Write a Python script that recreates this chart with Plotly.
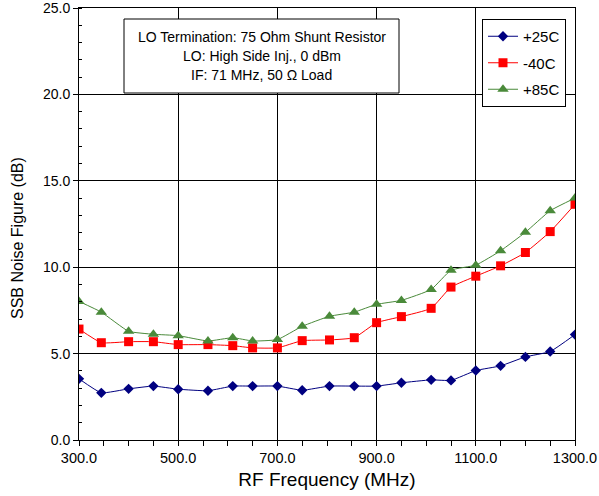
import plotly.graph_objects as go

freq_mhz = [300, 345, 400, 450, 500, 560, 610, 650, 700, 750, 805, 855,
            900, 950, 1010, 1050, 1100, 1150, 1200, 1250, 1300]
nf_25c = [3.54, 2.73, 2.96, 3.12, 2.94, 2.85, 3.12, 3.12, 3.12, 2.88, 3.12, 3.12,
          3.12, 3.31, 3.48, 3.45, 4.02, 4.29, 4.81, 5.12, 6.10]
nf_m40c = [6.42, 5.63, 5.69, 5.69, 5.52, 5.52, 5.46, 5.33, 5.33, 5.75, 5.79, 5.92,
           6.79, 7.14, 7.62, 8.85, 9.48, 10.08, 10.85, 12.06, 13.64]
nf_85c = [8.02, 7.40, 6.29, 6.12, 6.04, 5.73, 5.92, 5.73, 5.81, 6.58, 7.16, 7.40,
          7.85, 8.08, 8.71, 9.83, 10.12, 10.95, 12.02, 13.27, 14.00]

series_names = ["+25C", "-40C", "+85C"]
box_lines = ["LO Termination: 75 Ohm Shunt Resistor",
             "LO: High Side Inj., 0 dBm",
             "IF: 71 MHz, 50 \u03a9 Load"]
x_title = "RF Frequency (MHz)"
y_title = "SSB Noise Figure (dB)"

FONT = "Liberation Sans, Arial, Helvetica, sans-serif"
W, H = 599, 496
ML, MR, MT, MB = 79, 24, 8, 56
PW, PH = W - ML - MR, H - MT - MB

def px(x):
    return (x - ML) / PW

def py(y):
    return (H - MB - y) / PH

fig = go.Figure()
styles = [
    (nf_25c, "#000080", "diamond", 8),
    (nf_m40c, "#ff0000", "square", 9),
    (nf_85c, "#4a8a3a", "triangle-up", 10),
]
for i, (vals, col, sym, sz) in enumerate(styles):
    fig.add_trace(go.Scatter(
        x=freq_mhz, y=vals, name=series_names[i], mode="lines+markers",
        line=dict(color=col, width=1, shape="spline", smoothing=0.4),
        marker=dict(color=col, symbol=sym, size=sz, line=dict(width=0)),
        legendgroup="g%d" % i,
    ))

fig.update_layout(
    width=W, height=H,
    margin=dict(l=ML, r=MR, t=MT, b=MB, autoexpand=False),
    paper_bgcolor="white", plot_bgcolor="white",
    font=dict(family=FONT, size=14, color="black"),
    showlegend=True,
    legend=dict(x=px(482), y=py(19), xanchor="left", yanchor="top",
                bordercolor="black", borderwidth=1, bgcolor="white",
                font=dict(size=15), itemwidth=30, tracegroupgap=4,
                traceorder="grouped"),
    xaxis=dict(range=[300, 1300], dtick=200, tick0=300, tickformat=".1f",
               automargin=False, ticklabeloverflow="allow",
               showgrid=True, gridcolor="black", gridwidth=1,
               showline=True, linecolor="black", linewidth=1, mirror=True,
               ticks="outside", ticklen=5, tickcolor="black",
               minor=dict(dtick=50, ticks="outside", ticklen=5, tickcolor="black", showgrid=False),
               zeroline=False,
               title=dict(text=x_title, font=dict(size=19), standoff=7),
               tickfont=dict(size=14.5)),
    yaxis=dict(range=[0, 25], dtick=5, tickformat=".1f",
               automargin=False, ticklabeloverflow="allow",
               showgrid=True, gridcolor="black", gridwidth=1,
               showline=True, linecolor="black", linewidth=1, mirror=True,
               ticks="outside", ticklen=5, tickcolor="black",
               minor=dict(dtick=1, ticks="inside", ticklen=3, tickcolor="black", showgrid=False),
               zeroline=False,
               tickfont=dict(size=14)),
)

# y-axis title as rotated annotation
fig.add_annotation(xref="paper", yref="paper", x=px(17), y=py(238),
                   text=y_title, textangle=-90, showarrow=False,
                   xanchor="center", yanchor="middle",
                   font=dict(size=16, family=FONT))

# text box
fig.add_shape(type="rect", xref="paper", yref="paper",
              x0=px(124), x1=px(399), y0=py(93), y1=py(19),
              line=dict(color="black", width=1), fillcolor="white", layer="above")
for j, t in enumerate(box_lines):
    fig.add_annotation(xref="paper", yref="paper", x=px(261.5), y=py(37 + 19 * j),
                       text=t, showarrow=False, xanchor="center", yanchor="middle",
                       font=dict(size=14, family=FONT))

fig.write_html("out.html")
